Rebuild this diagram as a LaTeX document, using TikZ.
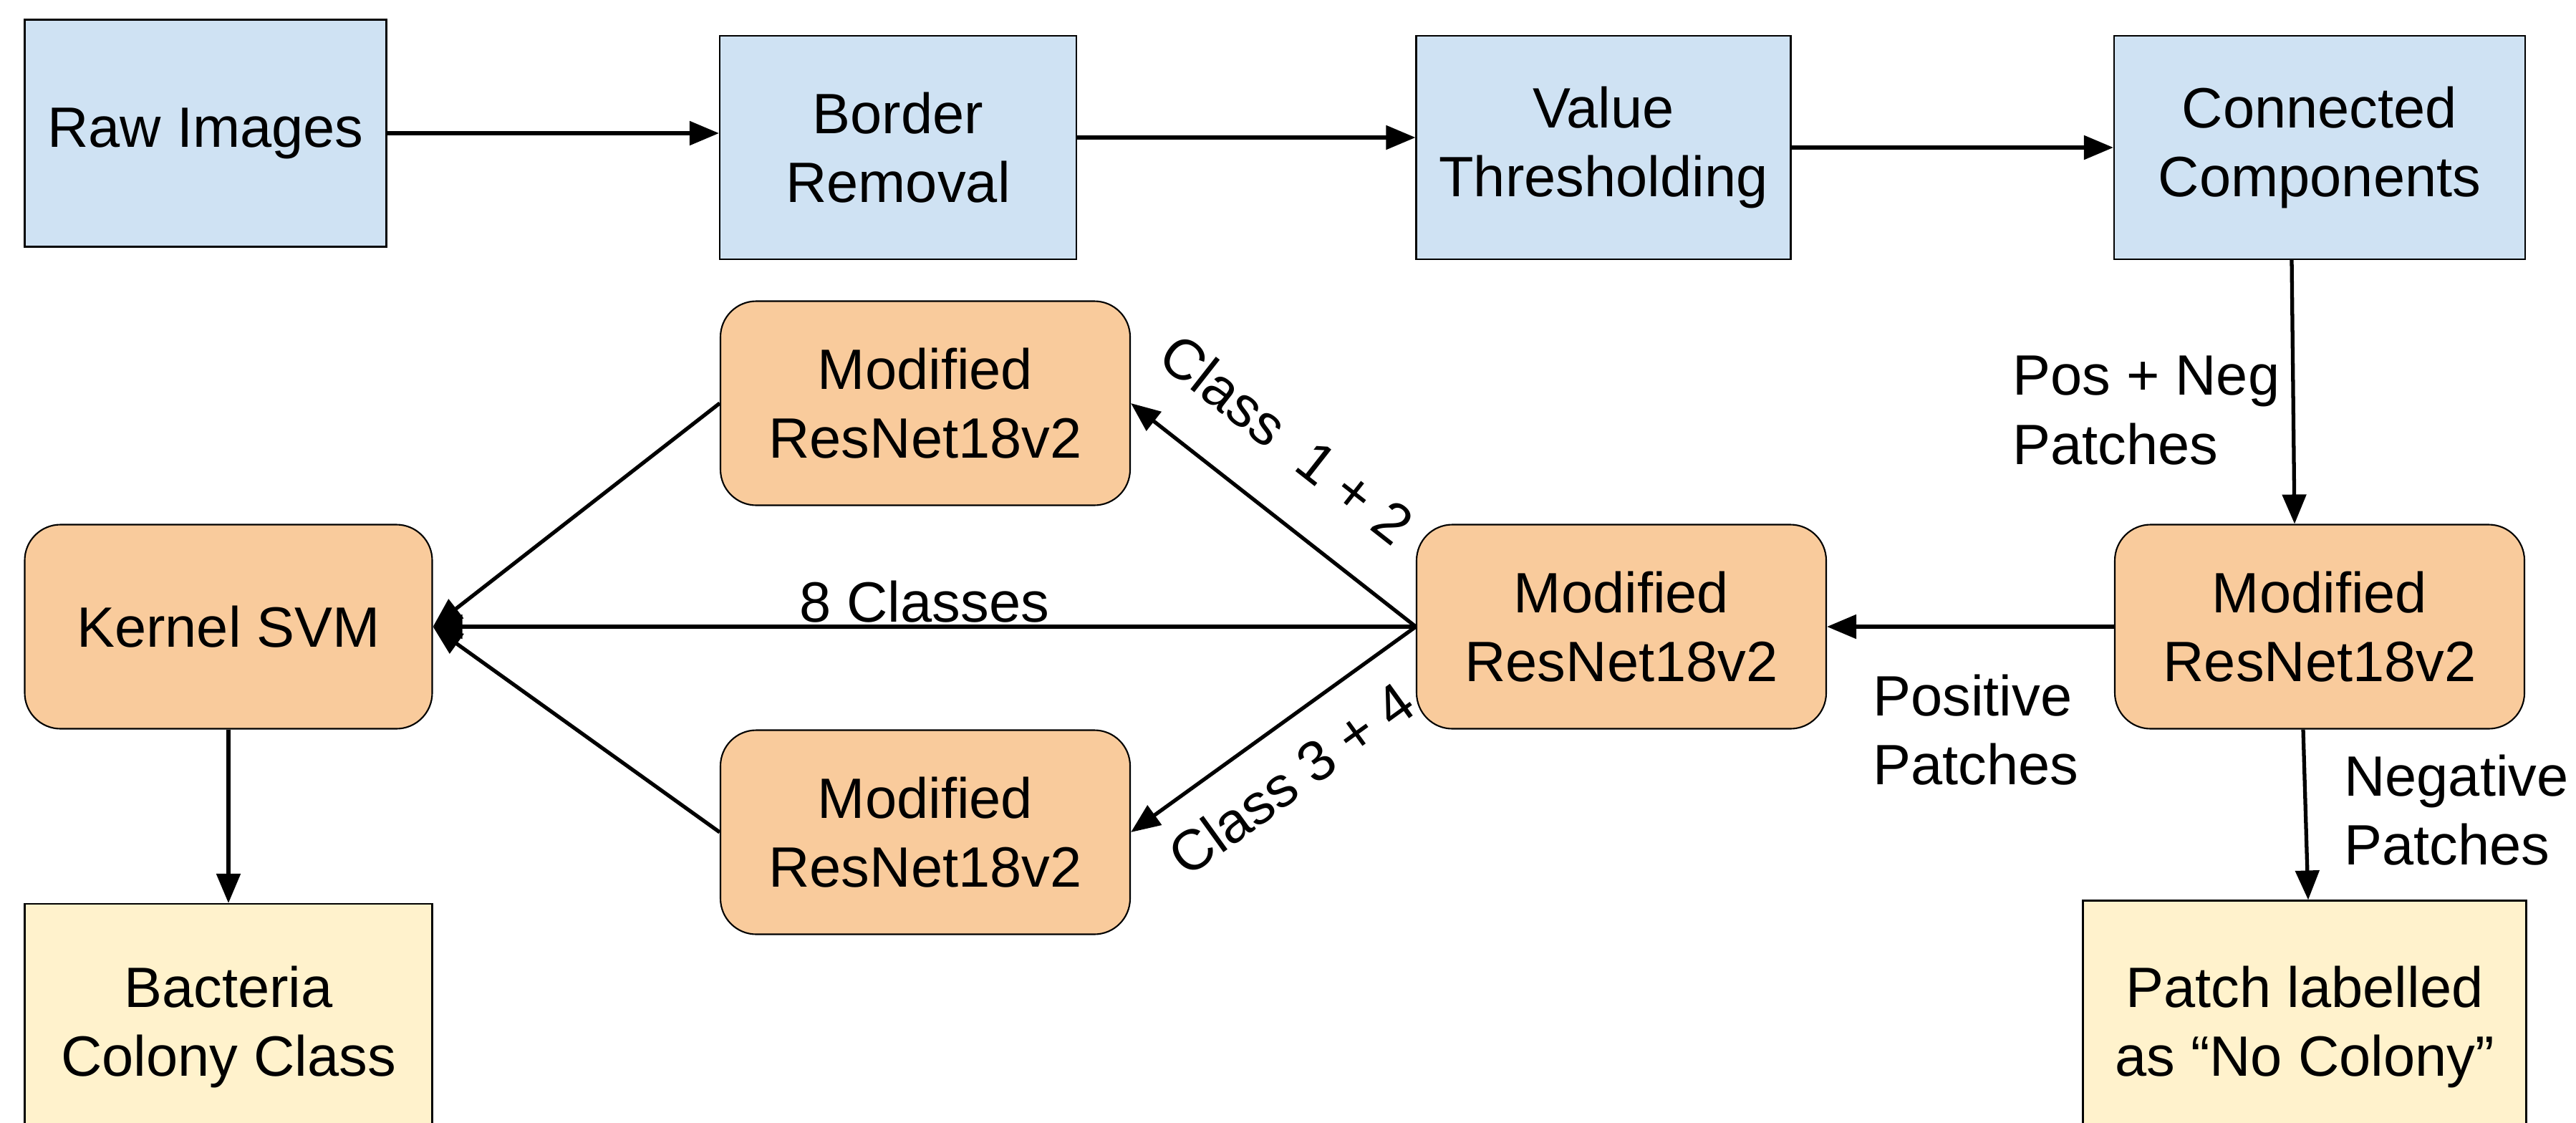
\documentclass[tikz,border=0pt]{standalone}
\usepackage{fontspec}
\setmainfont{Liberation Sans}
\usetikzlibrary{arrows.meta}

\definecolor{stageblue}{HTML}{CFE2F3}
\definecolor{netorange}{HTML}{F9CB9C}
\definecolor{outyellow}{HTML}{FFF2CC}
\newcommand{\boxfont}{\fontsize{22.6}{27.5}\selectfont}

\tikzset{
  stagebox/.style={draw=black, line width=0.6pt, fill=stageblue, align=center,
    minimum height=3.12cm, inner sep=2pt, font=\boxfont},
  netbox/.style={draw=black, line width=0.6pt, fill=netorange, align=center,
    rounded corners=0.5cm, minimum width=5.72cm, minimum height=2.85cm,
    inner sep=2pt, font=\boxfont},
  outbox/.style={draw=black, line width=0.6pt, fill=outyellow, align=center,
    inner sep=2pt, font=\boxfont},
  flow/.style={-{Triangle[length=4.1mm, width=3.3mm]}, line width=1.5pt},
  edgelabel/.style={font=\boxfont, inner sep=1pt, align=left}
}

\begin{document}
\begin{tikzpicture}
  \clip (0,0) rectangle (35.97,-15.67);
  \fill[white] (0,0) rectangle (35.97,-15.67);

  %Define nodes
  \node[stagebox, minimum width=5.05cm, minimum height=3.17cm] (raw)    at (2.87,-1.86)  {Raw Images};
  \node[stagebox, minimum width=4.98cm] (border) at (12.54,-2.06) {Border\\Removal};
  \node[stagebox, minimum width=5.23cm] (value)  at (22.39,-2.06) {Value\\Thresholding};
  \node[stagebox, minimum width=5.74cm] (conn)   at (32.39,-2.06) {Connected\\Components};

  \node[netbox]                         (resR) at (32.39,-8.75) {Modified\\ResNet18v2};
  \node[netbox]                         (resM) at (22.64,-8.75) {Modified\\ResNet18v2};
  \node[netbox]                         (resA) at (12.92,-5.63) {Modified\\ResNet18v2};
  \node[netbox]                         (resB) at (12.92,-11.62) {Modified\\ResNet18v2};
  \node[netbox, minimum width=5.69cm]   (svm)  at (3.19,-8.75)  {Kernel SVM};

  \node[outbox, minimum width=5.69cm, minimum height=3.44cm] (bact)  at (3.19,-14.34)  {Bacteria\\Colony Class};
  \node[outbox, minimum width=6.19cm, minimum height=3.53cm] (patch) at (32.18,-14.34) {Patch labelled\\as “No Colony”};

  % Connect the nodes
  \draw[flow] (raw.east) -- (raw.east -| border.west);
  \draw[flow] ([yshift=0.14cm]border.east) -- ([yshift=0.14cm]value.west);
  \draw[flow] (value.east) -- (conn.west);
  \draw[flow] ([xshift=-0.39cm]conn.south) -- ([xshift=-0.35cm]resR.north);
  \draw[flow] (resR.west) -- (resM.east);
  \draw[flow] ([xshift=-0.23cm]resR.south) -- ([xshift=0.05cm]patch.north);

  \draw[flow] (resM.west) -- node[pos=0.6, sloped, above=6mm, font=\boxfont, inner sep=1pt] {Class\ \ 1 + 2} (resA.east);
  \draw[flow] (resM.west) -- node[pos=0.54, sloped, below=3.5mm, font=\boxfont, inner sep=1pt] {Class 3 + 4} (resB.east);
  \draw[flow] (resM.west) -- node[midway, above=0pt, font=\boxfont, inner sep=1pt] {8 Classes} (svm.east);
  \draw[flow] (resA.west) -- (svm.east);
  \draw[flow] (resB.west) -- (svm.east);
  \draw[flow] (svm.south) -- (bact.north);

  % labels of the patch streams
  \node[edgelabel, anchor=west] (posneg) at (28.06,-5.73)  {Pos + Neg\\Patches};
  \node[edgelabel, anchor=west] (pospat) at (26.11,-10.19) {Positive\\Patches};
  \node[edgelabel, anchor=west] (negpat) at (32.69,-11.31) {Negative\\Patches};
\end{tikzpicture}
\end{document}
